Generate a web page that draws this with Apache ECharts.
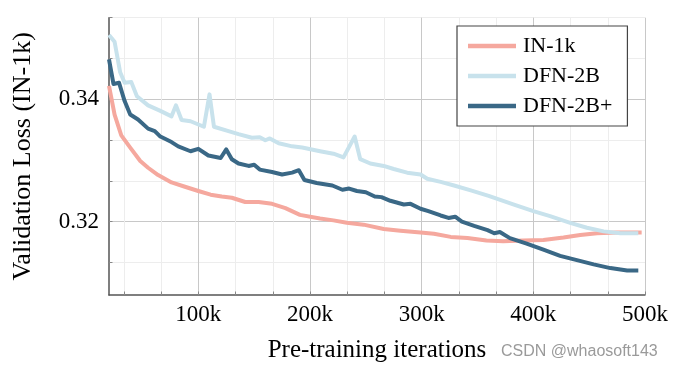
<!DOCTYPE html>
<html>
<head>
<meta charset="utf-8">
<script src="https://cdn.jsdelivr.net/npm/echarts@6/dist/echarts.min.js"></script>
<style>
html,body{margin:0;padding:0;background:#fff;}
#c{width:675px;height:369px;}
</style>
</head>
<body>
<div id="c"></div>
<script>
// ---- data (iterations in thousands, validation loss) ----
const seriesNames = ['IN-1k', 'DFN-2B', 'DFN-2B+'];

const xIN1k = [20, 25, 31, 39, 48, 55, 64, 76, 88, 100, 111, 121, 130, 142, 154, 166, 178, 191, 209, 221, 233, 248, 266, 281, 299, 311, 326, 341, 358, 373, 391, 409, 427, 442, 457, 475, 497];
const yIN1k = [0.3422, 0.3375, 0.3341, 0.3321, 0.3299, 0.3288, 0.3276, 0.3264, 0.3257, 0.3250, 0.3244, 0.3241, 0.3239, 0.3232, 0.3232, 0.3229, 0.3222, 0.3211, 0.3205, 0.3202, 0.3198, 0.3195, 0.3188, 0.3185, 0.3182, 0.3180, 0.3175, 0.3173, 0.3169, 0.3168, 0.3169, 0.3170, 0.3174, 0.3178, 0.3181, 0.3182, 0.3182];

const xDFN2B = [20, 25, 30, 34, 40, 45, 55, 66, 76, 80, 85, 93, 105, 110, 114, 127, 136, 148, 155, 160, 164, 172, 184, 193, 209, 221, 230, 240, 245, 254, 266, 275, 287, 299, 305, 317, 329, 344, 360, 371, 382, 400, 415, 433, 448, 463, 478, 494];
const yDFN2B = [0.3505, 0.3494, 0.3444, 0.3427, 0.3428, 0.3405, 0.3390, 0.3381, 0.3372, 0.3390, 0.3366, 0.3364, 0.3355, 0.3408, 0.3355, 0.3348, 0.3343, 0.3337, 0.3338, 0.3333, 0.3336, 0.3328, 0.3323, 0.3321, 0.3315, 0.3311, 0.3305, 0.3339, 0.3302, 0.3295, 0.3291, 0.3286, 0.3280, 0.3277, 0.3270, 0.3265, 0.3259, 0.3251, 0.3242, 0.3235, 0.3228, 0.3217, 0.3209, 0.3198, 0.3190, 0.3184, 0.3181, 0.3181];

const xDFN2Bp = [20, 24, 29, 34, 39, 46, 55, 61, 66, 76, 82, 93, 100, 109, 120, 125, 130, 136, 145, 150, 155, 166, 175, 184, 190, 195, 206, 220, 229, 235, 242, 250, 258, 264, 272, 284, 290, 299, 306, 317, 324, 330, 336, 347, 359, 365, 370, 379, 394, 409, 424, 439, 454, 469, 484, 494];
const yDFN2Bp = [0.3465, 0.3425, 0.3427, 0.3397, 0.3375, 0.3367, 0.3352, 0.3348, 0.3339, 0.3330, 0.3323, 0.3315, 0.3319, 0.3308, 0.3304, 0.3318, 0.3302, 0.3295, 0.3291, 0.3293, 0.3285, 0.3281, 0.3277, 0.3280, 0.3284, 0.3268, 0.3263, 0.3259, 0.3252, 0.3254, 0.3250, 0.3248, 0.3241, 0.3240, 0.3234, 0.3228, 0.3229, 0.3221, 0.3217, 0.3210, 0.3206, 0.3208, 0.3200, 0.3193, 0.3186, 0.3181, 0.3183, 0.3173, 0.3164, 0.3154, 0.3144, 0.3137, 0.3130, 0.3124, 0.3120, 0.3120];

// ---- ticks ----
const xTickLabels = [100, 200, 300, 400, 500];
const xTickPositions = [33.333, 66.667, 100, 133.333, 166.667, 200, 233.333, 266.667, 300, 333.333, 366.667, 400, 433.333, 466.667, 500];
const yTickLabels = [0.32, 0.34];
const yTickPositions = [0.31333, 0.32, 0.32667, 0.33333, 0.34, 0.34667, 0.35333];

const colors = ['#F5A89E', '#C8E2EC', '#3A6886'];

function zip(xs, ys) { return xs.map((x, i) => [x, ys[i]]); }

const serif = '"Liberation Serif", "DejaVu Serif", serif';
const chart = echarts.init(document.getElementById('c'), null, {renderer: 'canvas'});

chart.setOption({
  animation: false,
  backgroundColor: '#fff',
  grid: {left: 109, right: 30, top: 17.7, bottom: 74, containLabel: false},
  legend: {
    left: 457, top: 26,
    orient: 'vertical',
    icon: 'rect',
    itemWidth: 48, itemHeight: 4.5,
    itemGap: 8,
    padding: [9, 15, 9, 11],
    borderColor: '#444', borderWidth: 1.2, borderRadius: 0,
    backgroundColor: '#fff',
    textStyle: {fontFamily: serif, fontSize: 22, color: '#000', lineHeight: 22, padding: [0, 0, 0, 2]},
    data: seriesNames
  },
  xAxis: {
    type: 'value', min: 20, max: 500,
    name: 'Pre-training iterations', nameLocation: 'middle', nameGap: 43,
    nameTextStyle: {fontFamily: serif, fontSize: 25, color: '#000'},
    axisLine: {show: true, onZero: false, lineStyle: {color: '#555', width: 1.5}},
    axisTick: {show: true, inside: true, length: 3.5, customValues: xTickPositions, lineStyle: {color: '#888', width: 1}},
    axisLabel: {customValues: xTickLabels, margin: 8, fontFamily: serif, fontSize: 23, color: '#000',
                formatter: v => Math.round(v) + 'k'},
    splitLine: {show: true, lineStyle: {color: ['#ededed', '#ededed', '#c8c8c8'], width: 1}}
  },
  yAxis: {
    type: 'value', min: 0.308, max: 0.35333,
    name: 'Validation Loss (IN-1k)', nameLocation: 'middle', nameGap: 73, nameRotate: 90,
    nameTextStyle: {fontFamily: serif, fontSize: 26, color: '#000'},
    axisLine: {show: true, onZero: false, lineStyle: {color: '#555', width: 1.5}},
    axisTick: {show: true, inside: true, length: 3.5, customValues: yTickPositions, lineStyle: {color: '#888', width: 1}},
    axisLabel: {customValues: yTickLabels, margin: 10, fontFamily: serif, fontSize: 23, color: '#000',
                formatter: v => v.toFixed(2)},
    splitLine: {show: true, lineStyle: {color: ['#ededed', '#c8c8c8', '#ededed'], width: 1}}
  },
  graphic: [{
    type: 'text', left: 501, top: 344,
    style: {text: 'CSDN @whaosoft143', fontFamily: '"Liberation Sans", Arial, sans-serif', fontSize: 16, fill: '#9a9a9a'}
  }],
  series: [
    {name: seriesNames[0], type: 'line', data: zip(xIN1k, yIN1k), symbol: 'none', color: colors[0], lineStyle: {width: 4, color: colors[0], join: 'round'}},
    {name: seriesNames[1], type: 'line', data: zip(xDFN2B, yDFN2B), symbol: 'none', color: colors[1], lineStyle: {width: 4, color: colors[1], join: 'round'}},
    {name: seriesNames[2], type: 'line', data: zip(xDFN2Bp, yDFN2Bp), symbol: 'none', color: colors[2], lineStyle: {width: 4, color: colors[2], join: 'round'}}
  ]
});
</script>
</body>
</html>
